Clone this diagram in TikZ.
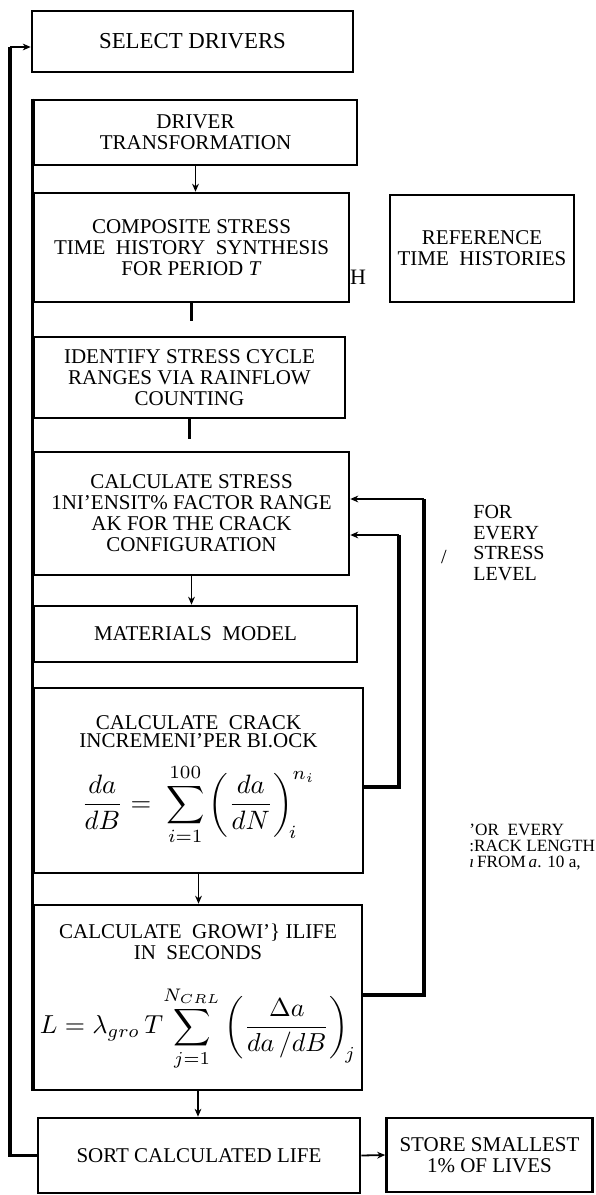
\documentclass[tikz,border=0pt]{standalone}
\usepackage{graphicx}
\usepackage{fontspec}
\setmainfont{Liberation Serif}
\usepackage{tikz}
\usetikzlibrary{arrows.meta,positioning,calc}
\definecolor{cInk}{HTML}{000000}
\tikzset{
  procbox/.style={draw=cInk,line width=1.3pt,align=center,inner sep=2pt,
      font=\fontsize{10.5}{10.5}\selectfont,text=cInk},
  frameline/.style={draw=cInk,line width=1.7pt},
  loopline/.style={draw=cInk,line width=1.7pt},
  stubline/.style={draw=cInk,line width=1.3pt},
  flowarr/.style={-{Stealth[length=4pt,width=3.4pt]},draw=cInk,line width=0.9pt},
  sidelab/.style={font=\fontsize{10}{10.3}\selectfont,align=left,inner sep=0pt,
      anchor=west,text=cInk},
}
% name, centre x, centre y, width, height, text
\newcommand{\pbox}[6]{%
  \node[procbox,minimum width=#4,minimum height=#5] (#1) at (#2,#3) {#6};}
% scale, formula
\newcommand{\bigmath}[2]{\makebox[150pt]{\scalebox{#1}{\fontsize{10}{12}\selectfont$\displaystyle #2$}}}

\begin{document}
\begin{tikzpicture}[x=0.5pt,y=-0.5pt]
  \useasboundingbox (0,0) rectangle (595,1195);

  \pbox{sel}{192.5}{41.5}{160.5pt}{30.5pt}{{\fontsize{11.4}{12}\selectfont SELECT DRIVERS}}
  \pbox{drv}{195.5}{132.5}{161.5pt}{32.5pt}{DRIVER\\TRANSFORMATION}
  \pbox{cmp}{191.5}{247.5}{157.5pt}{54.5pt}{COMPOSITE STRESS\\TIME\ \ HISTORY\ \ SYNTHESIS\\FOR PERIOD \textit{T}}
  \pbox{ref}{482}{248.5}{92pt}{53.5pt}{REFERENCE\\TIME\ \ HISTORIES}
  \pbox{idn}{189.5}{377.5}{155.5pt}{40.5pt}{IDENTIFY STRESS CYCLE\\RANGES VIA RAINFLOW\\COUNTING}
  \pbox{ksf}{191.5}{513.5}{157.5pt}{61.5pt}{CALCULATE STRESS\\1NI'ENSIT\% FACTOR RANGE\\AK FOR THE CRACK\\CONFIGURATION}
  \pbox{mat}{195.5}{634}{161.5pt}{28pt}{MATERIALS\ \ MODEL}
  \pbox{crk}{198.5}{780.5}{164.5pt}{92.5pt}{CALCULATE\ \ CRACK\\[-1.5pt]INCREMENI'PER BI.OCK\\[7pt]
    \bigmath{1.33}{\frac{da}{dB} = \;\sum_{i=1}^{100}\left(\frac{da}{dN}\right)_{\!i}^{n_i}}}
  \pbox{grw}{198}{997.5}{164pt}{92.5pt}{CALCULATE\ \ GROWI'\} ILIFE\\IN\ \ SECONDS\\[12pt]
    \bigmath{1.3}{L = \lambda_{gro}\,T\!\sum_{j=1}^{N_{CRL}}\left(\frac{\Delta a}{da\,/dB}\right)_{\!j}}}
  \pbox{srt}{199}{1155.5}{161pt}{37.5pt}{SORT CALCULATED LIFE}
  \pbox{sto}{489.5}{1155}{103pt}{37pt}{STORE SMALLEST\\1\% OF LIVES}

  % the loop frame on the left
  \draw[frameline] (drv.north west) -- (grw.south west);

  \draw[flowarr] (drv.south) -- (drv.south |- cmp.north);
  \draw[stubline] (cmp.south) -- ++(0,18);
  \draw[stubline] (idn.south) -- ++(0,20);
  \draw[flowarr] (ksf.south) -- (ksf.south |- mat.north);
  \draw[flowarr] (crk.south) -- (crk.south |- grw.north);
  \draw[flowarr] (grw.south) -- (grw.south |- srt.north);
  \draw[flowarr] (srt.east) -- (sto.west);

  \node[font=\fontsize{11}{11}\selectfont,inner sep=0pt] (hmark) at (358,277) {H};

  % inner and outer loops
  \coordinate (slb) at (399,787);
  \coordinate (slt) at (399,535);
  \draw[loopline] (slb -| crk.east) -- (slb) -- (slt);
  \draw[flowarr] (slt) -- (slt -| ksf.east);
  \coordinate (clb) at (424,995);
  \coordinate (clt) at (424,499);
  \draw[loopline] (clb -| grw.east) -- (clb) -- (clt);
  \draw[flowarr] (clt) -- (clt -| ksf.east);

  % feedback to the start
  \coordinate (fbtop) at (10,47);
  \draw[loopline] (srt.west) -| (fbtop);
  \draw[flowarr] (fbtop) -- (fbtop -| sel.west);

  \node[sidelab] (lvlab) at (473,543) {FOR\\EVERY\\STRESS\\LEVEL};
  \node[font=\fontsize{10}{10}\selectfont,inner sep=0pt] (slash) at (444,557) {/};
  \node[sidelab,font=\fontsize{8.6}{8.2}\selectfont] (crlab) at (469,847)
    {'OR\ \ EVERY\\:RACK LENGTH\\\textit{ı}\,FROM\,\textit{a}. 10 a,};
\end{tikzpicture}
\end{document}
